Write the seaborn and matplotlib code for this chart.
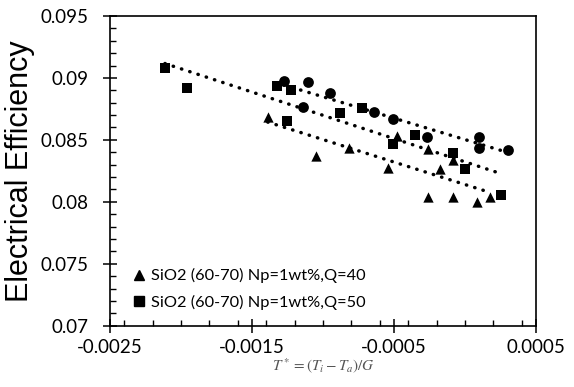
import numpy as np
import pandas as pd
import matplotlib
matplotlib.use("Agg")
import matplotlib.pyplot as plt
import seaborn as sns
from matplotlib.ticker import MultipleLocator
from matplotlib.lines import Line2D

# Data
q40_x = [-0.001389, -0.001049, -0.00082, -0.000542, -0.000479, -0.000258,
         -0.000258, -0.000176, -0.000082, -0.000082, 0.000087, 0.000176]
q40_y = [0.08687, 0.0837, 0.08437, 0.08271, 0.08532, 0.08424,
         0.08042, 0.08263, 0.08338, 0.08037, 0.08001, 0.08042]
q50_x = [-0.002113, -0.001956, -0.001322, -0.001222, -0.001251, -0.00088,
         -0.000722, -0.000505, -0.000349, -0.000082, 0.0, 0.000251]
q50_y = [0.09078, 0.08917, 0.08935, 0.08903, 0.08653, 0.0872,
         0.08755, 0.08467, 0.0854, 0.08397, 0.08265, 0.08055]
circ_x = [-0.001275, -0.001109, -0.000951, -0.001141, -0.000644,
          -0.000504, -0.00027, 0.000101, 0.000101, 0.000305]
circ_y = [0.08975, 0.08971, 0.08881, 0.08766, 0.08723,
          0.08667, 0.08526, 0.08526, 0.08432, 0.08419]

label_q40 = "SiO2 (60-70) Np=1wt%,Q=40"
label_q50 = "SiO2 (60-70) Np=1wt%,Q=50"
x_ticks = [-0.0025, -0.0015, -0.0005, 0.0005]
x_tick_labels = ["-0.0025", "-0.0015", "-0.0005", "0.0005"]
y_ticks = [0.07, 0.075, 0.08, 0.085, 0.09, 0.095]
y_tick_labels = ["0.07", "0.075", "0.08", "0.085", "0.09", "0.095"]

df40 = pd.DataFrame({"x": q40_x, "y": q40_y})
df50 = pd.DataFrame({"x": q50_x, "y": q50_y})
dfc = pd.DataFrame({"x": circ_x, "y": circ_y})

plt.rcParams["font.family"] = ["Lato", "DejaVu Sans"]
plt.rcParams["mathtext.fontset"] = "stix"

fig = plt.figure(figsize=(5.74, 3.87), dpi=100)
ax = fig.add_axes([110 / 574, 1 - 325.7 / 387, 426 / 574, 309.7 / 387])

sns.scatterplot(data=df40, x="x", y="y", marker="^", s=55, color="black",
                linewidth=0, ax=ax, zorder=3)
sns.scatterplot(data=df50, x="x", y="y", marker="s", s=62, color="black",
                linewidth=0, ax=ax, zorder=3)
sns.scatterplot(data=dfc, x="x", y="y", marker="o", s=60, color="black",
                linewidth=0, ax=ax, zorder=3)

line_kws = dict(color="black", linewidth=2.5, linestyle=(0, (0.1, 2.4)),
                dash_capstyle="round", zorder=4)
for d in (df40, df50, dfc):
    sns.regplot(data=d, x="x", y="y", scatter=False, ci=None, ax=ax,
                line_kws=line_kws, truncate=True)

ax.set_xlim(-0.0025, 0.0005)
ax.set_ylim(0.07, 0.095)
ax.set_xticks(x_ticks)
ax.set_xticklabels(x_tick_labels)
ax.set_yticks(y_ticks)
ax.set_yticklabels(y_tick_labels)
ax.xaxis.set_minor_locator(MultipleLocator(0.0002))
ax.yaxis.set_minor_locator(MultipleLocator(0.001))

ax.tick_params(axis="both", which="major", direction="inout", length=9.4,
               width=1.1, labelsize=13.5, colors="black")
ax.tick_params(axis="both", which="minor", direction="in", length=4.5,
               width=1.0)
ax.tick_params(axis="y", which="major", pad=10.5)
ax.tick_params(axis="x", which="major", pad=5.0)

for sp in ax.spines.values():
    sp.set_linewidth(1.2)
    sp.set_color("black")

ax.set_ylabel("Electrical Efficiency", fontsize=22, family="Liberation Sans",
              labelpad=4)
ax.set_xlabel(r"$T^* = (T_i - T_a)/G$", fontsize=11, color="#555555",
              labelpad=0)

handles = [Line2D([], [], marker="^", color="black", linestyle="None",
                  markersize=7),
           Line2D([], [], marker="s", color="black", linestyle="None",
                  markersize=7.5)]
ax.legend(handles, [label_q40, label_q50], loc="lower left",
          bbox_to_anchor=(0.04, 0.03), frameon=False, fontsize=11.8,
          handlelength=0.7, handletextpad=0.35, labelspacing=0.7,
          borderaxespad=0)

fig.savefig("out.png", dpi=100)
